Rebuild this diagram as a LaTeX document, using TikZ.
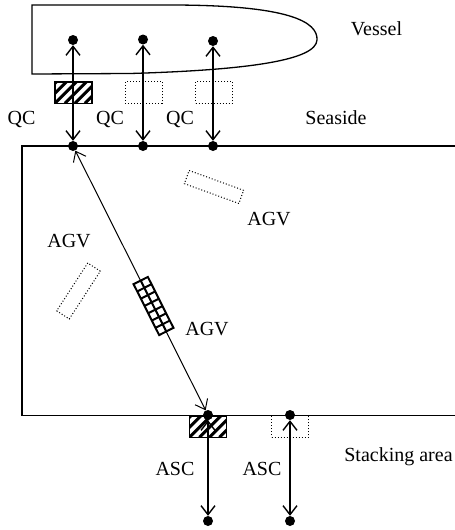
\documentclass[tikz,border=0pt]{standalone}
\usepackage{fontspec}
\setmainfont{Liberation Serif}
\usepackage{tikz}
\usetikzlibrary{arrows.meta}

\begin{document}
\begin{tikzpicture}[x=1pt,y=-1pt,
  dot/.style={circle,fill,inner sep=0pt,minimum size=10pt},
  lbl/.style={font=\fontsize{20}{24}\selectfont,anchor=base,inner sep=0pt},
  link/.style={{Straight Barb[length=9pt,width=14pt]}-{Straight Barb[length=9pt,width=14pt]},line width=1.4pt},
  crane/.style={inner sep=0pt,minimum width=37pt,minimum height=21.5pt},
  idle/.style={crane,draw,dotted,line width=1pt},
  busy/.style={crane,draw,line width=1.5pt,path picture={
      \foreach \i in {-3,...,4}
        \draw[line width=3pt] ([xshift=\i*10pt]path picture bounding box.south west) -- ++(26pt,26pt);}}]
  \useasboundingbox (0,0) rectangle (455,530);
  % 船
  \draw[line width=1.3pt] (32,74) -- (32,5) -- (170,5)
    .. controls (290,5) and (318,22) .. (317,40)
    .. controls (316,60) and (250,70) .. (130,73.5) -- cycle;
  % 堆场
  \draw[line width=1.3pt] (455,146) -- (22,146) -- (22,415.5) -- (455,415.5);
  % 岸桥
  \node[busy] (qcA) at (73.5,92.5) {};
  \node[idle] (qcB) at (143.5,92.5) {};
  \node[idle] (qcC) at (214,92.5) {};
  % 场桥
  \node[busy] (ascA) at (208,426.5) {};
  \node[idle] (ascB) at (290,426.5) {};
  % AGV
  \node[draw,dotted,line width=1pt,inner sep=0pt,minimum width=58pt,minimum height=14pt,rotate=-20] (agvA) at (214,187) {};
  \node[draw,dotted,line width=1pt,inner sep=0pt,minimum width=57pt,minimum height=15pt,rotate=57] (agvB) at (78.5,291) {};
  \begin{scope}[shift={(153.5,306)},rotate=-63.3,line width=2pt]
    \draw (-28.5,-8) rectangle (28.5,8);
    \draw (-28.5,0) -- (28.5,0);
    \foreach \k in {1,...,6} \draw ({-28.5+\k*57/7},-8) -- ++(0,16);
  \end{scope}
  % 作业点
  \node[dot] (v1) at (73,40) {};
  \node[dot] (v2) at (143,39.5) {};
  \node[dot] (v3) at (213,41) {};
  \node[dot] (q1) at (73,146) {};
  \node[dot] (q2) at (143,146) {};
  \node[dot] (q3) at (213,146) {};
  \node[dot] (s1) at (208,415) {};
  \node[dot] (s2) at (290,415) {};
  \node[dot] (b1) at (208,521) {};
  \node[dot] (b2) at (290,521) {};
  \draw[link] (v1) -- (q1);
  \draw[link] (v2) -- (q2);
  \draw[link] (v3) -- (q3);
  \draw[link,line width=1pt] (q1) -- (s1);
  \draw[link] (s1) -- (b1);
  \draw[link] (s2) -- (b2);
  % 文字
  \node[lbl] (tVessel) at (376.5,35) {Vessel};
  \node[lbl] (tSea) at (336,124) {Seaside};
  \node[lbl] (tQcA) at (21.5,124) {QC};
  \node[lbl] (tQcB) at (110,124) {QC};
  \node[lbl] (tQcC) at (180,124) {QC};
  \node[lbl] (tAgvA) at (269,225) {AGV};
  \node[lbl] (tAgvB) at (69,247) {AGV};
  \node[lbl] (tAgvC) at (207,335) {AGV};
  \node[lbl] (tAscA) at (175,475) {ASC};
  \node[lbl] (tAscB) at (262,475) {ASC};
  \node[lbl] (tStack) at (398.5,461) {Stacking area};
\end{tikzpicture}
\end{document}
